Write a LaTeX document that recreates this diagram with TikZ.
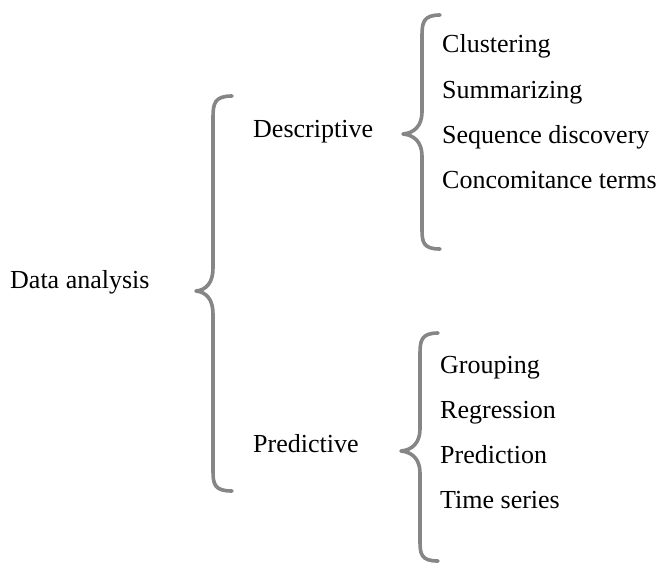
\documentclass[tikz,border=0pt]{standalone}
\usepackage{fontspec}
\setmainfont{Liberation Serif}
\tikzset{
  label/.style={anchor=base west, inner sep=0pt, font=\fontsize{26}{31}\selectfont},
  curly/.style={draw=gray!95, line width=3.6pt, line cap=round, line join=round}
}
\begin{document}
\begin{tikzpicture}[x=1pt, y=-1pt]
  \useasboundingbox (0,0) rectangle (660,563);
  \draw
    (10,288) node[label] (data){Data analysis}
    (253,137) node[label] (desc){Descriptive}
    (253,452) node[label] (pred){Predictive}
    (442,52) node[label] (clus){Clustering}
    (442,98) node[label] (summ){Summarizing}
    (442,143) node[label] (sequ){Sequence discovery}
    (442,188) node[label] (conc){Concomitance terms}
    (440,373) node[label] (grou){Grouping}
    (440,418) node[label] (regr){Regression}
    (440,463) node[label] (pred2){Prediction}
    (440,508) node[label] (time){Time series};
  \begin{scope}[curly]
    \draw (232,96) .. controls (214,96) and (213,104) .. (213,118)
      -- (213,268) .. controls (213,283) and (206,290) .. (196,291)
      .. controls (206,292) and (213,299) .. (213,314)
      -- (213,470) .. controls (213,484) and (214,491) .. (232,491);
    \draw (440,15) .. controls (423,15) and (422,23) .. (422,36)
      -- (422,112) .. controls (422,126) and (414,133) .. (403,134)
      .. controls (414,135) and (422,142) .. (422,156)
      -- (422,229) .. controls (422,242) and (423,249) .. (440,249);
    \draw (438,333) .. controls (421,333) and (420,341) .. (420,354)
      -- (420,429) .. controls (420,443) and (412,450) .. (401,451)
      .. controls (412,452) and (420,459) .. (420,473)
      -- (420,541) .. controls (420,554) and (421,561) .. (438,561);
  \end{scope}
\end{tikzpicture}
\end{document}
